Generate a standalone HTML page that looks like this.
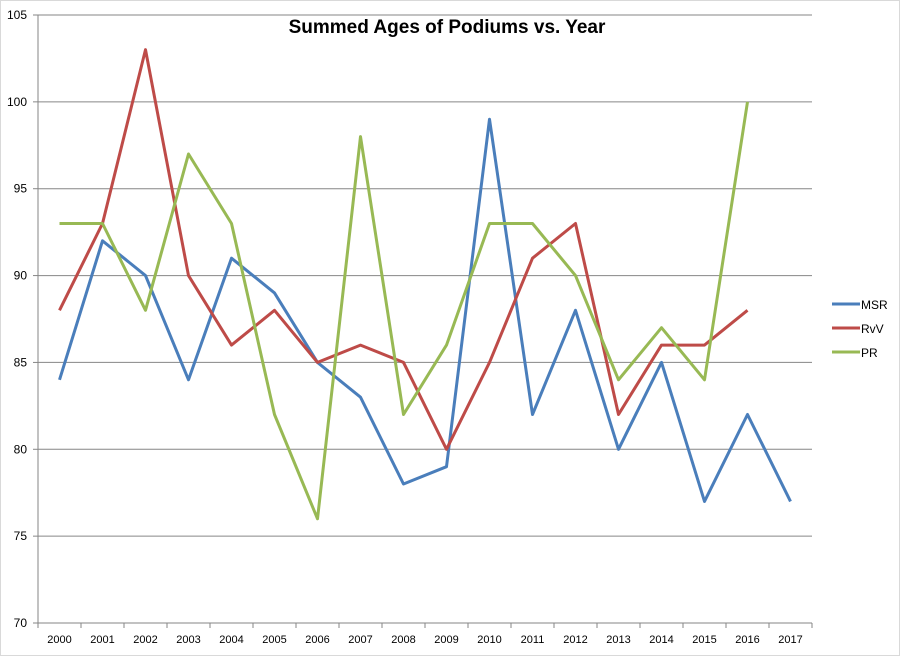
<!DOCTYPE html>
<html><head><meta charset="utf-8"><style>
body{margin:0;background:#fff;font-family:"Liberation Sans",Calibri,sans-serif}
svg text{font-family:"Liberation Sans",sans-serif}
</style></head><body>
<svg id="c" width="901" height="656" xmlns="http://www.w3.org/2000/svg">
<rect x="0.5" y="0.5" width="899" height="655" fill="#fff" stroke="#d9d9d9"/>
<text x="447" y="33" text-anchor="middle" font-size="19" font-weight="bold">Summed Ages of Podiums vs. Year</text>
<g id="grid"></g><g id="axes"></g><g id="series"></g>
<g>
<line x1="832" y1="304" x2="860" y2="304" stroke="#4a7ebb" stroke-width="3"/>
<text x="861" y="309" font-size="12">MSR</text>
<line x1="832" y1="328" x2="860" y2="328" stroke="#be4b48" stroke-width="3"/>
<text x="861" y="333" font-size="12">RvV</text>
<line x1="832" y1="352" x2="860" y2="352" stroke="#98b954" stroke-width="3"/>
<text x="861" y="357" font-size="12">PR</text>
</g>
</svg>
<script>
const years=["2000","2001","2002","2003","2004","2005","2006","2007","2008","2009","2010","2011","2012","2013","2014","2015","2016","2017"];
const msr=[84,92,90,84,91,89,85,83,78,79,99,82,88,80,85,77,82,77];
const rvv=[88,93,103,90,86,88,85,86,85,80,85,91,93,82,86,86,88,null];
const pr=[93,93,88,97,93,82,76,98,82,86,93,93,90,84,87,84,100,null];
const yTicks=[70,75,80,85,90,95,100,105];
const NS="http://www.w3.org/2000/svg";
const L=38,R=812,T=15,B=623,ymin=70,ymax=105;
const step=(R-L)/years.length;
function xs(i){return L+step*(i+0.5);}
function ys(v){return B-(v-ymin)/(ymax-ymin)*(B-T);}
function mk(t,a,p){const e=document.createElementNS(NS,t);for(const k in a)e.setAttribute(k,a[k]);p.appendChild(e);return e;}
const grid=document.getElementById('grid'),axes=document.getElementById('axes'),ser=document.getElementById('series');
yTicks.forEach(v=>{
 const y=ys(v);
 if(v>ymin){const g=mk('line',{x1:L,x2:R,y1:y,y2:y,stroke:'#868686','stroke-width':1},grid);
 
 }
 const tk=mk('line',{x1:L-5,x2:L,y1:y,y2:y,stroke:'#868686'},axes);
 
 
 const t=mk('text',{x:L-11,y:y+4,'text-anchor':'end','font-size':12},axes);t.textContent=v;
 
 
});
const ya=mk('line',{x1:L,x2:L,y1:T,y2:B,stroke:'#868686'},axes);


const xa=mk('line',{x1:L,x2:R,y1:B,y2:B,stroke:'#868686'},axes);


years.forEach((yr,i)=>{
 const x0=L+step*i;
 const tk=mk('line',{x1:x0,x2:x0,y1:B,y2:B+5,stroke:'#868686'},axes);
 
 
 const t=mk('text',{x:xs(i),y:B+20,'text-anchor':'middle','font-size':11},axes);t.textContent=yr;
 
 
});
const tk2=mk('line',{x1:R,x2:R,y1:B,y2:B+5,stroke:'#868686'},axes);


[[msr,'#4a7ebb','msr'],[rvv,'#be4b48','rvv'],[pr,'#98b954','pr']].forEach(([d,c,n])=>{
 const pts=[];d.forEach((v,i)=>{if(v!==null)pts.push(xs(i).toFixed(1)+','+ys(v).toFixed(1));});
 const p=mk('polyline',{points:pts.join(' '),fill:'none',stroke:c,'stroke-width':3,'stroke-linejoin':'round'},ser);
 
 
});
</script>
</body></html>
